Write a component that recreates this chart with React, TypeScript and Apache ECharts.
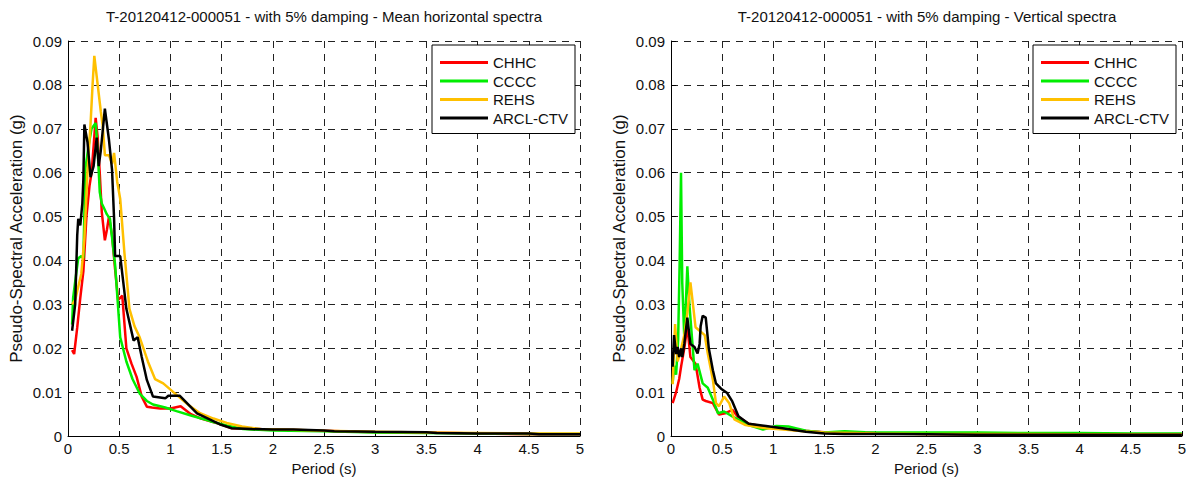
import React, { useEffect, useRef } from "react";
import * as echarts from "echarts";

// ---- Data (period in s, pseudo-spectral acceleration in g) ----
const seriesNames = ["CHHC", "CCCC", "REHS", "ARCL-CTV"];
const seriesColors = ["#ff0000", "#00ee00", "#ffc000", "#000000"];

const xTicks = [0, 0.5, 1, 1.5, 2, 2.5, 3, 3.5, 4, 4.5, 5];
const yTicks = [0, 0.01, 0.02, 0.03, 0.04, 0.05, 0.06, 0.07, 0.08, 0.09];

// Left panel: mean horizontal spectra
const hChhcT = [0.04, 0.06, 0.09, 0.12, 0.15, 0.18, 0.21, 0.23, 0.25, 0.27, 0.29, 0.31, 0.33, 0.36, 0.38, 0.4, 0.43, 0.46, 0.49, 0.53, 0.57, 0.62, 0.67, 0.72, 0.77, 0.82, 0.9, 1.0, 1.1, 1.2, 1.3, 1.45, 1.6, 1.8, 2.0, 2.5, 3.0, 3.5, 4.0, 4.5, 5.0];
const hChhcA = [0.0196, 0.0187, 0.0247, 0.0315, 0.0375, 0.05, 0.057, 0.06, 0.066, 0.0725, 0.068, 0.06, 0.051, 0.0446, 0.047, 0.05, 0.0457, 0.038, 0.031, 0.032, 0.02, 0.0165, 0.0135, 0.009, 0.0067, 0.0065, 0.0063, 0.0063, 0.0068, 0.005, 0.004, 0.003, 0.0018, 0.0016, 0.0015, 0.0012, 0.0009, 0.0008, 0.0006, 0.0004, 0.0004];

const hCcccT = [0.04, 0.05, 0.08, 0.1, 0.13, 0.15, 0.17, 0.2, 0.23, 0.27, 0.29, 0.31, 0.33, 0.35, 0.38, 0.41, 0.46, 0.51, 0.57, 0.63, 0.7, 0.77, 0.83, 0.95, 1.06, 1.2, 1.39, 1.55, 1.71, 2.0, 2.5, 3.0, 3.5, 4.0, 4.5, 5.0];
const hCcccA = [0.0254, 0.0315, 0.037, 0.0405, 0.041, 0.0405, 0.061, 0.066, 0.07, 0.0713, 0.065, 0.0556, 0.053, 0.052, 0.0505, 0.0495, 0.039, 0.0225, 0.017, 0.013, 0.0097, 0.008, 0.0072, 0.0065, 0.0057, 0.0047, 0.0034, 0.0024, 0.0016, 0.0013, 0.0011, 0.0008, 0.0007, 0.0006, 0.0005, 0.0005];

const hRehsT = [0.04, 0.07, 0.1, 0.13, 0.16, 0.19, 0.22, 0.24, 0.257, 0.28, 0.3, 0.32, 0.34, 0.36, 0.4, 0.43, 0.45, 0.48, 0.51, 0.55, 0.6, 0.65, 0.7, 0.78, 0.85, 0.93, 1.06, 1.18, 1.29, 1.42, 1.55, 1.7, 1.88, 2.1, 2.5, 3.0, 3.5, 4.0, 4.5, 5.0];
const hRehsA = [0.03, 0.031, 0.034, 0.037, 0.045, 0.06, 0.071, 0.08, 0.0866, 0.082, 0.078, 0.074, 0.0705, 0.064, 0.064, 0.062, 0.0645, 0.058, 0.054, 0.042, 0.029, 0.025, 0.0225, 0.017, 0.013, 0.012, 0.0094, 0.007, 0.0052, 0.004, 0.003, 0.0022, 0.0016, 0.0015, 0.0012, 0.001, 0.0008, 0.0007, 0.0006, 0.0006];

const hArclT = [0.04, 0.07, 0.09, 0.1, 0.12, 0.14, 0.15, 0.16, 0.19, 0.22, 0.25, 0.28, 0.3, 0.32, 0.36, 0.4, 0.43, 0.45, 0.46, 0.51, 0.54, 0.57, 0.64, 0.68, 0.72, 0.77, 0.83, 0.95, 0.98, 1.09, 1.26, 1.48, 1.6, 1.8, 2.0, 2.2, 2.5, 2.6, 3.0, 3.5, 3.6, 4.0, 4.5, 4.6, 5.0];
const hArclA = [0.024, 0.03, 0.0457, 0.0495, 0.048, 0.053, 0.0585, 0.071, 0.067, 0.059, 0.0615, 0.068, 0.0615, 0.065, 0.0746, 0.0675, 0.0607, 0.0495, 0.041, 0.041, 0.035, 0.029, 0.0218, 0.0225, 0.018, 0.0128, 0.009, 0.0086, 0.0092, 0.0092, 0.0052, 0.0027, 0.0018, 0.0016, 0.0015, 0.0015, 0.0013, 0.0011, 0.001, 0.0009, 0.0007, 0.0006, 0.0006, 0.0004, 0.0004];

// Right panel: vertical spectra
const vChhcT = [0.016, 0.05, 0.08, 0.1, 0.13, 0.16, 0.19, 0.24, 0.28, 0.31, 0.34, 0.41, 0.47, 0.53, 0.6, 0.65, 0.76, 0.9, 1.0, 1.2, 1.5, 1.8, 2.0, 2.5, 3.0, 4.0, 5.0];
const vChhcA = [0.0075, 0.01, 0.013, 0.016, 0.02, 0.025, 0.018, 0.0165, 0.011, 0.0083, 0.008, 0.0075, 0.0049, 0.0052, 0.006, 0.0045, 0.0028, 0.0022, 0.0019, 0.0014, 0.0009, 0.0008, 0.0007, 0.0005, 0.0004, 0.0003, 0.0003];

const vCcccT = [0.016, 0.03, 0.05, 0.07, 0.085, 0.098, 0.11, 0.13, 0.145, 0.16, 0.18, 0.21, 0.23, 0.26, 0.31, 0.36, 0.41, 0.46, 0.52, 0.6, 0.76, 0.9, 1.03, 1.15, 1.32, 1.5, 1.7, 1.9, 2.2, 2.6, 3.0, 3.5, 4.0, 4.5, 5.0];
const vCcccA = [0.012, 0.016, 0.014, 0.022, 0.04, 0.06, 0.035, 0.0225, 0.03, 0.0387, 0.03, 0.021, 0.015, 0.0165, 0.012, 0.011, 0.0083, 0.0052, 0.0056, 0.0045, 0.0025, 0.0015, 0.0023, 0.0022, 0.0012, 0.0008, 0.0011, 0.0009, 0.0008, 0.0008, 0.0008, 0.0007, 0.0007, 0.0006, 0.0006];

const vRehsT = [0.016, 0.04, 0.065, 0.1, 0.13, 0.16, 0.19, 0.22, 0.24, 0.28, 0.33, 0.36, 0.41, 0.44, 0.47, 0.52, 0.57, 0.62, 0.73, 0.93, 1.1, 1.3, 1.5, 1.8, 2.0, 2.5, 3.0, 4.0, 5.0];
const vRehsA = [0.0118, 0.0255, 0.017, 0.02, 0.023, 0.028, 0.035, 0.029, 0.0248, 0.024, 0.023, 0.0188, 0.0128, 0.0075, 0.0068, 0.009, 0.0075, 0.0038, 0.0025, 0.0018, 0.0015, 0.0011, 0.0008, 0.0007, 0.0006, 0.0005, 0.0005, 0.0004, 0.0004];

const vArclT = [0.016, 0.03, 0.05, 0.065, 0.08, 0.1, 0.11, 0.13, 0.16, 0.19, 0.23, 0.26, 0.28, 0.29, 0.31, 0.34, 0.37, 0.41, 0.44, 0.49, 0.55, 0.6, 0.66, 0.76, 0.93, 1.09, 1.32, 1.5, 1.7, 2.0, 2.5, 3.0, 4.0, 5.0];
const vArclA = [0.0158, 0.023, 0.0187, 0.0203, 0.018, 0.02, 0.018, 0.021, 0.027, 0.021, 0.0203, 0.0188, 0.021, 0.025, 0.0274, 0.027, 0.02, 0.015, 0.012, 0.0108, 0.0098, 0.0079, 0.0045, 0.0028, 0.0023, 0.0018, 0.001, 0.0006, 0.0005, 0.0005, 0.0004, 0.0003, 0.0003, 0.0003];

const leftTitle = "T-20120412-000051 - with 5% damping - Mean horizontal spectra";
const rightTitle = "T-20120412-000051 - with 5% damping - Vertical spectra";
const xName = "Period (s)";
const yName = "Pseudo-Spectral Acceleration (g)";

const FONT = "'Liberation Sans', Arial, Helvetica, sans-serif";

function zip(t: number[], a: number[]) {
  return t.map((v, i) => [v, a[i]]);
}

export default function App() {
  const ref = useRef<HTMLDivElement>(null);
  useEffect(() => {
    if (!ref.current) return;
    const chart = echarts.init(ref.current, undefined, { renderer: "svg" });
    const grids = [
      { left: 68, top: 41, width: 512, height: 399 },
      { left: 671, top: 41, width: 512, height: 399 },
    ];
    const mkX = (gi: number) => ({
      type: "value",
      gridIndex: gi,
      min: 0,
      max: 5,
      interval: 0.5,
      name: xName,
      nameLocation: "middle",
      nameGap: 24,
      nameTextStyle: { fontFamily: FONT, fontSize: 15, color: "#111" },
      axisLine: { show: true, onZero: false, lineStyle: { color: "#000", width: 1 } },
      axisTick: { show: true, inside: true, length: 5, lineStyle: { color: "#000" } },
      axisLabel: {
        fontFamily: FONT,
        fontSize: 15,
        color: "#111",
        margin: 5,
        formatter: (v: number) => String(xTicks.find((t) => Math.abs(t - v) < 1e-9) ?? v),
      },
      splitLine: { show: true, lineStyle: { color: "#222", type: [7, 6], width: 1 } },
    });
    const mkY = (gi: number) => ({
      type: "value",
      gridIndex: gi,
      min: 0,
      max: 0.09,
      interval: 0.01,
      name: yName,
      nameLocation: "middle",
      nameGap: 43,
      nameTextStyle: { fontFamily: FONT, fontSize: 17, color: "#111" },
      axisLine: { show: true, lineStyle: { color: "#000", width: 1 } },
      axisTick: { show: true, inside: true, length: 5, lineStyle: { color: "#000" } },
      axisLabel: {
        fontFamily: FONT,
        fontSize: 15,
        color: "#111",
        margin: 6,
        formatter: (v: number) => {
          const t = yTicks.find((k) => Math.abs(k - v) < 1e-9);
          return t === undefined ? "" : t === 0 ? "0" : t.toFixed(2);
        },
      },
      splitLine: { show: true, lineStyle: { color: "#222", type: [7, 6], width: 1 } },
    });
    const leftData = [zip(hChhcT, hChhcA), zip(hCcccT, hCcccA), zip(hRehsT, hRehsA), zip(hArclT, hArclA)];
    const rightData = [zip(vChhcT, vChhcA), zip(vCcccT, vCcccA), zip(vRehsT, vRehsA), zip(vArclT, vArclA)];
    const series: any[] = [];
    [leftData, rightData].forEach((panel, gi) => {
      panel.forEach((d, i) => {
        series.push({
          type: "line",
          name: seriesNames[i],
          xAxisIndex: gi,
          yAxisIndex: gi,
          data: d,
          showSymbol: false,
          symbol: "none",
          lineStyle: { color: seriesColors[i], width: 2.5 },
          itemStyle: { color: seriesColors[i] },
          z: 3 + i,
        });
      });
    });
    const mkLegend = (left: number) => ({
      orient: "vertical",
      left,
      top: 45,
      data: seriesNames,
      icon: "rect",
      itemWidth: 48,
      itemHeight: 3,
      itemGap: 3.5,
      padding: [10, 7, 8, 8],
      backgroundColor: "#fff",
      borderColor: "#000",
      borderWidth: 1,
      textStyle: { fontFamily: FONT, fontSize: 15, color: "#111", lineHeight: 14, padding: [0, 0, 0, 0] },
      selectedMode: false,
    });
    chart.setOption({
      animation: false,
      backgroundColor: "#fff",
      grid: grids,
      xAxis: [mkX(0), mkX(1)],
      yAxis: [mkY(0), mkY(1)],
      legend: [mkLegend(432), mkLegend(1033)],
      series,
      graphic: [
        {
          type: "text",
          x: 324,
          y: 9,
          style: { text: leftTitle, fontFamily: FONT, fontSize: 15, fill: "#111", textAlign: "center" },
        },
        {
          type: "text",
          x: 927,
          y: 9,
          style: { text: rightTitle, fontFamily: FONT, fontSize: 15, fill: "#111", textAlign: "center" },
        },
      ],
    });
    return () => chart.dispose();
  }, []);
  return (
    <div
      ref={ref}
      style={{ position: "fixed", left: 0, top: 0, width: 1189, height: 481, background: "#fff" }}
    />
  );
}
